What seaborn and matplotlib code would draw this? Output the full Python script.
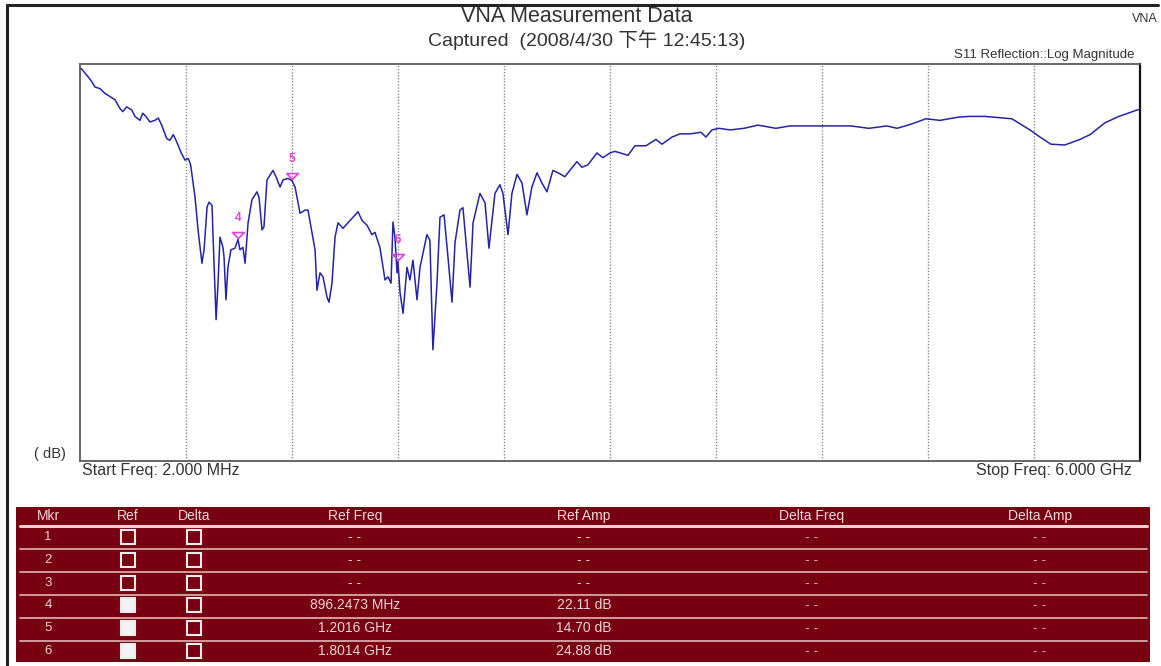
import matplotlib
matplotlib.use("Agg")
import matplotlib.pyplot as plt
import matplotlib.transforms as mtransforms
from matplotlib.lines import Line2D
from matplotlib.patches import Rectangle
import seaborn as sns
import pandas as pd

# ---------------- data ----------------
freq_mhz = [6, 40, 68, 87, 115, 143, 172, 200, 228, 244, 266, 295, 313, 341, 357, 375, 398, 426,
            445, 464, 493, 511, 530, 549, 577, 596, 615, 628,
            653, 670, 692, 704, 721, 732, 749, 755, 772, 783, 794, 811, 817, 828, 839, 856, 879,
            896, 907, 924, 936, 953, 975, 1003, 1015, 1032, 1043, 1060, 1077, 1094, 1111, 1134,
            1151, 1179, 1202, 1219, 1247, 1275, 1292, 1315, 1332, 1343, 1360, 1377, 1400, 1411,
            1428, 1445, 1462, 1490, 1518, 1547, 1575, 1598, 1626, 1654, 1671, 1699, 1728, 1745,
            1762, 1773, 1784, 1796, 1801, 1813, 1830, 1852, 1869, 1886, 1909, 1926, 1965, 1982,
            1999, 2022, 2039, 2062, 2084, 2107, 2124, 2152, 2169, 2209, 2226, 2265, 2294, 2316,
            2350, 2378, 2395, 2424, 2446, 2475, 2503, 2531, 2559, 2588, 2616, 2644, 2678, 2707,
            2746, 2774, 2814, 2842, 2876, 2927, 2961, 3001, 3029, 3103, 3142, 3204, 3261, 3295,
            3352, 3397, 3453, 3516, 3544, 3578, 3618, 3680, 3759, 3838, 3940, 4019, 4200, 4364,
            4466, 4568, 4625, 4687, 4727, 4789, 4868, 4970, 5032, 5123, 5174, 5275, 5377, 5434,
            5496, 5575, 5660, 5717, 5802, 5881, 5983, 6000]
amp_db = [0.5, 1.4, 2.2, 2.9, 3.1, 3.7, 4.1, 4.5, 5.6, 6.0, 5.4, 5.8, 6.6, 7.1, 6.2, 6.6, 7.3, 7.1,
          6.8, 7.7, 9.4, 9.6, 8.9, 9.8, 11.3, 12.1, 11.9, 12.7,
          16.8, 20.9, 25.1, 23.4, 18.0, 17.4, 17.8, 21.8, 32.2, 27.6, 21.8, 23.1, 24.3, 29.7, 25.6,
          23.4, 23.2, 22.1, 23.4, 23.1, 25.1, 20.0, 17.1, 16.1, 16.8, 20.9, 20.5, 14.6, 14.0, 13.4,
          14.2, 15.5, 14.6, 14.4, 14.7, 15.5, 18.8, 18.4, 18.4, 21.3, 23.4, 28.5, 26.3, 26.8, 29.4,
          30.0, 27.6, 21.8, 20.0, 20.7, 20.0, 19.3, 18.6, 19.7, 20.3, 21.5, 21.2, 23.1, 27.2, 26.8,
          27.6, 19.9, 21.8, 26.3, 24.9, 28.8, 31.4, 25.6, 27.2, 24.7, 29.7, 25.6, 21.5, 22.2,
          36.0, 27.6, 19.3, 19.0, 24.3, 30.0, 22.5, 18.4, 18.1, 28.1, 20.0, 16.3, 17.5, 23.2,
          16.3, 15.2, 16.3, 21.5, 16.3, 13.9, 15.0, 19.0, 15.5, 13.7, 15.0, 16.1, 13.4, 13.7,
          14.2, 13.4, 12.3, 13.0, 12.7, 11.2, 11.8, 11.2, 11.0, 11.5, 10.3, 10.3, 9.5, 10.1,
          9.2, 8.8, 8.8, 8.6, 9.2, 8.3, 8.1, 8.3, 8.1, 7.7, 8.1, 7.8, 7.8, 7.8,
          8.1, 7.8, 8.1, 7.7, 7.4, 6.9, 7.1, 6.7, 6.6, 6.6, 6.7, 6.9, 8.3, 9.2,
          10.1, 10.2, 9.5, 8.9, 7.4, 6.6, 5.8, 5.7]

start_freq_mhz = 2.0
stop_freq_mhz = 6000.0
y_top_db = 0
y_bottom_db = 50

marker_ids = [4, 5, 6]
marker_freq_mhz = [896.2473, 1201.6, 1801.4]
marker_amp_db = [22.11, 14.70, 24.88]

table_columns = ["Mkr", "Ref", "Delta", "Ref Freq", "Ref Amp", "Delta Freq", "Delta Amp"]
table_mkr = ["1", "2", "3", "4", "5", "6"]
table_ref_on = [False, False, False, True, True, True]
table_ref_freq = ["- -", "- -", "- -", "896.2473 MHz", "1.2016 GHz", "1.8014 GHz"]
table_ref_amp = ["- -", "- -", "- -", "22.11 dB", "14.70 dB", "24.88 dB"]
table_delta_freq = ["- -"] * 6
table_delta_amp = ["- -"] * 6

title = "VNA Measurement Data"
subtitle = "Captured  (2008/4/30 下午 12:45:13)"
trace_label = "S11 Reflection::Log Magnitude"

# ---------------- style ----------------
sns.set_theme(style="white")
plt.rcParams["font.family"] = ["Liberation Sans", "Noto Sans CJK SC", "DejaVu Sans"]

W, H = 1161, 666
fig = plt.figure(figsize=(W / 100, H / 100), dpi=100)
fig.patch.set_facecolor("white")


def fx(x):
    return x / W


def fy(y):
    return 1 - y / H


# outer frame (top and left thick lines)
fig.add_artist(Line2D([fx(7), fx(1158)], [fy(5), fy(5)], color="#222222", lw=2.2))
fig.add_artist(Line2D([fx(7), fx(7)], [fy(5), fy(666)], color="#222222", lw=2.2))

# ---------------- main plot ----------------
ax = fig.add_axes([fx(80), fy(461), (1140 - 80) / W, (461 - 64) / H])
df = pd.DataFrame({"freq": freq_mhz, "amp": amp_db})
sns.lineplot(data=df, x="freq", y="amp", ax=ax, color="#2424a8", lw=1.1, sort=False)
ax.set_xlim(start_freq_mhz, stop_freq_mhz)
ax.set_ylim(y_bottom_db, y_top_db)
step = (stop_freq_mhz - start_freq_mhz) / 10
ax.set_xticks([start_freq_mhz + k * step for k in range(1, 10)])
ax.set_yticks([])
ax.tick_params(length=0, labelbottom=False, labelleft=False)
ax.grid(axis="x", ls=(0, (1, 1.2)), color="#8a8a8a", lw=1.0)
ax.grid(axis="y", visible=False)
ax.set_xlabel("")
ax.set_ylabel("")
for s in ["left", "bottom", "top"]:
    ax.spines[s].set_color("#5a5a5a")
    ax.spines[s].set_linewidth(1.3)
ax.spines["right"].set_color("#111111")
ax.spines["right"].set_linewidth(1.6)

# markers
tri = [(-1, 0.5), (1, 0.5), (0, -0.5), (-1, 0.5)]
off = mtransforms.offset_copy(ax.transData, fig=fig, x=0, y=5, units="dots")
ax.plot(marker_freq_mhz, marker_amp_db, linestyle="none", marker=tri, ms=8.5,
        mfc="none", mec="#e040e0", mew=1.2, transform=off)
for mid, f, a in zip(marker_ids, marker_freq_mhz, marker_amp_db):
    ax.annotate(str(mid), (f, a), xytext=(0, 11), textcoords="offset points",
                ha="center", va="bottom", color="#e040e0", fontsize=8.5, fontweight="bold")

# texts
fig.text(fx(577), fy(17), title, ha="center", va="center", fontsize=15.5, color="#333333")
fig.text(fx(587), fy(40), subtitle, ha="center", va="center", fontsize=14, color="#333333")
fig.text(fx(1158), fy(19), "VNA", ha="right", va="center", fontsize=9, color="#333333")
fig.text(fx(1134), fy(55), trace_label, ha="right", va="center", fontsize=9.5, color="#333333")
fig.text(fx(34), fy(454), "( dB)", ha="left", va="center", fontsize=10.5, color="#333333")
fig.text(fx(82), fy(470), "Start Freq: 2.000 MHz", ha="left", va="center", fontsize=11.5, color="#333333")
fig.text(fx(1132), fy(470), "Stop Freq: 6.000 GHz", ha="right", va="center", fontsize=11.5, color="#333333")

# ---------------- marker table ----------------
tx0, tx1, ty0, ty1 = 16, 1150, 507, 662
tax = fig.add_axes([fx(tx0), fy(ty1), (tx1 - tx0) / W, (ty1 - ty0) / H])
tax.set_xlim(tx0, tx1)
tax.set_ylim(ty1, ty0)
tax.axis("off")
tax.add_patch(Rectangle((tx0, ty0), tx1 - tx0, ty1 - ty0, facecolor="#780010", edgecolor="none"))

col_x = [48, 128, 194, 355, 584, 812, 1040]
header_y = 516
row_y0, row_h = 537, 22.8
text_col = "#e6d6d6"

for cx, name in zip(col_x, table_columns):
    tax.text(cx, header_y, name, ha="center", va="center", fontsize=10, color="#f0dada")
tax.plot([20, 1147], [525.5, 525.5], color="#f2d0d0", lw=2.2)
for i in range(5):
    yy = 548.5 + i * 23.0
    tax.plot([20, 1147], [yy, yy], color="#d8a8a8", lw=1.3)

for i in range(6):
    ry = row_y0 + i * row_h
    tax.text(col_x[0], ry, table_mkr[i], ha="center", va="center", fontsize=9.5, color=text_col)
    fc = "#f2f2f2" if table_ref_on[i] else "none"
    tax.add_patch(Rectangle((col_x[1] - 7, ry - 7), 14, 14, facecolor=fc, edgecolor="#ececec", lw=1.5))
    tax.add_patch(Rectangle((col_x[2] - 7, ry - 7), 14, 14, facecolor="none", edgecolor="#ececec", lw=1.5))
    tax.text(col_x[3], ry, table_ref_freq[i], ha="center", va="center", fontsize=10, color=text_col)
    tax.text(col_x[4], ry, table_ref_amp[i], ha="center", va="center", fontsize=10, color=text_col)
    tax.text(col_x[5], ry, table_delta_freq[i], ha="center", va="center", fontsize=10, color="#c8a8a8")
    tax.text(col_x[6], ry, table_delta_amp[i], ha="center", va="center", fontsize=10, color="#c8a8a8")

fig.savefig("out.png", dpi=100)
